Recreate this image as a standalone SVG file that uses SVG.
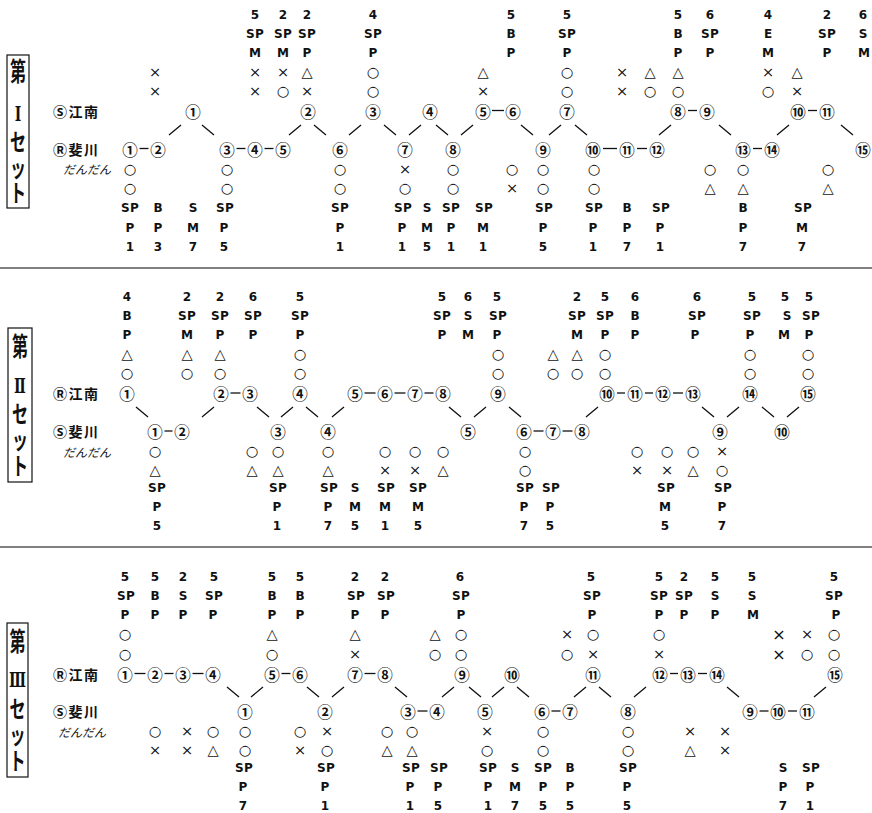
<svg xmlns="http://www.w3.org/2000/svg" width="872" height="813" viewBox="0 0 872 813">
<style>
.a{font-family:"DejaVu Sans","Liberation Sans",sans-serif;font-weight:bold;font-size:12px;text-anchor:middle;dominant-baseline:central;fill:#111}
.sp{letter-spacing:0.3px}
.s{font-family:"DejaVu Sans",sans-serif;font-weight:normal;font-size:14.5px}
.X{font-family:"DejaVu Sans",sans-serif;font-weight:normal;font-size:16px}
.c{font-family:"Noto Sans CJK JP",sans-serif;font-size:15.5px;font-weight:bold;text-anchor:middle;dominant-baseline:central;fill:#111}
.lab{font-family:"Noto Sans CJK JP",sans-serif;font-size:14px;font-weight:bold;letter-spacing:1.5px;dominant-baseline:central;fill:#111}
.dd{font-family:"Noto Sans CJK JP",sans-serif;font-size:12px;font-style:italic;dominant-baseline:central;fill:#111}
.v{font-family:"Noto Sans CJK JP",sans-serif;font-size:16px;font-weight:bold;text-anchor:middle;dominant-baseline:central;fill:#111}
.r{font-family:"DejaVu Serif","Liberation Serif",serif;font-size:14px}
.vt{font-family:"Noto Sans CJK JP",sans-serif;font-size:16px;font-weight:bold;writing-mode:vertical-rl;text-anchor:middle;fill:#111;font-feature-settings:"vert" 0,"vrt2" 0}
.box{fill:none;stroke:#111;stroke-width:1.2}
.ln{stroke:#111;stroke-width:1.3;fill:none}
.sep{stroke:#808080;stroke-width:2}
</style>
<rect width="872" height="813" fill="#fff"/>
<g id="separators">
<line class="sep" x1="0" y1="268" x2="872" y2="268"/>
<line class="sep" x1="0" y1="547" x2="872" y2="547"/>
</g>
<!-- ================= SET I ================= -->
<g id="set1-title">
<rect class="box" x="7" y="55" width="22" height="153"/>
<text class="v" transform="translate(18,70) scale(1,1.6)">第</text>
<text class="v r" transform="translate(18,113) scale(1,1.5)">Ⅰ</text>
<text class="vt" letter-spacing="1" transform="translate(18,168.5) scale(1,1.5)">セット</text>
</g>
<g id="set1-labels">
<text class="lab" x="53" y="110.5">Ⓢ江南</text>
<text class="lab" x="53" y="148.5">Ⓡ斐川</text>
<text class="dd" x="63" y="168.5">だんだん</text>
</g>
<g id="set1-top">
<g id="s1t-155"><text class="a"><tspan class="s" x="155" y="72">×</tspan><tspan class="s" x="155" y="90.5">×</tspan></text></g>
<g id="s1t-255"><text class="a"><tspan x="255" y="15">5</tspan><tspan class="sp" x="255" y="34">SP</tspan><tspan x="255" y="53">M</tspan><tspan class="s" x="255" y="72">×</tspan><tspan class="s" x="255" y="90.5">×</tspan></text></g>
<g id="s1t-283"><text class="a"><tspan x="283" y="15">2</tspan><tspan class="sp" x="283" y="34">SP</tspan><tspan x="283" y="53">M</tspan><tspan class="s" x="283" y="72">×</tspan><tspan class="s" x="283" y="90.5">○</tspan></text></g>
<g id="s1t-307"><text class="a"><tspan x="307" y="15">2</tspan><tspan class="sp" x="307" y="34">SP</tspan><tspan x="307" y="53">P</tspan><tspan class="s" x="307" y="72">△</tspan><tspan class="s" x="307" y="90.5">×</tspan></text></g>
<g id="s1t-373"><text class="a"><tspan x="373" y="15">4</tspan><tspan class="sp" x="373" y="34">SP</tspan><tspan x="373" y="53">P</tspan><tspan class="s" x="373" y="72">○</tspan><tspan class="s" x="373" y="90.5">○</tspan></text></g>
<g id="s1t-483"><text class="a"><tspan class="s" x="483" y="72">△</tspan><tspan class="s" x="483" y="90.5">×</tspan></text></g>
<g id="s1t-511"><text class="a"><tspan x="511" y="15">5</tspan><tspan x="511" y="34">B</tspan><tspan x="511" y="53">P</tspan></text></g>
<g id="s1t-567"><text class="a"><tspan x="567" y="15">5</tspan><tspan class="sp" x="567" y="34">SP</tspan><tspan x="567" y="53">P</tspan><tspan class="s" x="567" y="72">○</tspan><tspan class="s" x="567" y="90.5">○</tspan></text></g>
<g id="s1t-622"><text class="a"><tspan class="s" x="622" y="72">×</tspan><tspan class="s" x="622" y="90.5">×</tspan></text></g>
<g id="s1t-650"><text class="a"><tspan class="s" x="650" y="72">△</tspan><tspan class="s" x="650" y="90.5">○</tspan></text></g>
<g id="s1t-678"><text class="a"><tspan x="678" y="15">5</tspan><tspan x="678" y="34">B</tspan><tspan x="678" y="53">P</tspan><tspan class="s" x="678" y="72">△</tspan><tspan class="s" x="678" y="90.5">○</tspan></text></g>
<g id="s1t-710"><text class="a"><tspan x="710" y="15">6</tspan><tspan class="sp" x="710" y="34">SP</tspan><tspan x="710" y="53">P</tspan></text></g>
<g id="s1t-768"><text class="a"><tspan x="768" y="15">4</tspan><tspan x="768" y="34">E</tspan><tspan x="768" y="53">M</tspan><tspan class="s" x="768" y="72">×</tspan><tspan class="s" x="768" y="90.5">○</tspan></text></g>
<g id="s1t-797"><text class="a"><tspan class="s" x="797" y="72">△</tspan><tspan class="s" x="797" y="90.5">×</tspan></text></g>
<g id="s1t-827"><text class="a"><tspan x="827" y="15">2</tspan><tspan class="sp" x="827" y="34">SP</tspan><tspan x="827" y="53">P</tspan></text></g>
<g id="s1t-863"><text class="a"><tspan x="863" y="15">6</tspan><tspan x="863" y="34">S</tspan><tspan x="864" y="53">M</tspan></text></g>
</g>
<g id="set1-nodes-top">
<g id="s1a-1"><text class="c" x="193" y="110.5">①</text></g>
<g id="s1a-2"><text class="c" x="308" y="110.5">②</text></g>
<g id="s1a-3"><text class="c" x="373" y="110.5">③</text></g>
<g id="s1a-4"><text class="c" x="430" y="110.5">④</text></g>
<g id="s1a-5"><text class="c" x="483" y="110.5">⑤</text></g>
<g id="s1a-6"><text class="c" x="513" y="110.5">⑥</text></g>
<g id="s1a-7"><text class="c" x="567" y="110.5">⑦</text></g>
<g id="s1a-8"><text class="c" x="678" y="110.5">⑧</text></g>
<g id="s1a-9"><text class="c" x="707" y="110.5">⑨</text></g>
<g id="s1a-10"><text class="c" x="798" y="110.5">⑩</text></g>
<g id="s1a-11"><text class="c" x="827" y="110.5">⑪</text></g>
</g>
<g id="set1-nodes-bottom">
<g id="s1b-1"><text class="c" x="130" y="148.5">①</text></g>
<g id="s1b-2"><text class="c" x="158" y="148.5">②</text></g>
<g id="s1b-3"><text class="c" x="227" y="148.5">③</text></g>
<g id="s1b-4"><text class="c" x="255" y="148.5">④</text></g>
<g id="s1b-5"><text class="c" x="283" y="148.5">⑤</text></g>
<g id="s1b-6"><text class="c" x="340" y="148.5">⑥</text></g>
<g id="s1b-7"><text class="c" x="405" y="148.5">⑦</text></g>
<g id="s1b-8"><text class="c" x="453" y="148.5">⑧</text></g>
<g id="s1b-9"><text class="c" x="543" y="148.5">⑨</text></g>
<g id="s1b-10"><text class="c" x="593" y="148.5">⑩</text></g>
<g id="s1b-11"><text class="c" x="627" y="148.5">⑪</text></g>
<g id="s1b-12"><text class="c" x="657" y="148.5">⑫</text></g>
<g id="s1b-13"><text class="c" x="743" y="148.5">⑬</text></g>
<g id="s1b-14"><text class="c" x="772" y="148.5">⑭</text></g>
<g id="s1b-15"><text class="c" x="863" y="148.5">⑮</text></g>
</g>
<g id="set1-bottom">
<g id="s1d-130"><text class="a"><tspan class="s" x="130" y="168.5">○</tspan><tspan class="s" x="130" y="188">○</tspan><tspan class="sp" x="130" y="208">SP</tspan><tspan x="130" y="227.5">P</tspan><tspan x="130" y="247">1</tspan></text></g>
<g id="s1d-158"><text class="a"><tspan x="158" y="208">B</tspan><tspan x="158" y="227.5">P</tspan><tspan x="158" y="247">3</tspan></text></g>
<g id="s1d-193"><text class="a"><tspan x="193" y="208">S</tspan><tspan x="193" y="227.5">M</tspan><tspan x="193" y="247">7</tspan></text></g>
<g id="s1d-226"><text class="a"><tspan class="s" x="227" y="168.5">○</tspan><tspan class="s" x="227" y="188">○</tspan><tspan class="sp" x="225" y="208">SP</tspan><tspan x="224" y="227.5">P</tspan><tspan x="224" y="247">5</tspan></text></g>
<g id="s1d-340"><text class="a"><tspan class="s" x="340" y="168.5">○</tspan><tspan class="s" x="340" y="188">○</tspan><tspan class="sp" x="340" y="208">SP</tspan><tspan x="340" y="227.5">P</tspan><tspan x="340" y="247">1</tspan></text></g>
<g id="s1d-404"><text class="a"><tspan class="s" x="405" y="168.5">×</tspan><tspan class="s" x="405" y="188">○</tspan><tspan class="sp" x="403" y="208">SP</tspan><tspan x="402" y="227.5">P</tspan><tspan x="402" y="247">1</tspan></text></g>
<g id="s1d-427"><text class="a"><tspan x="427" y="208">S</tspan><tspan x="427" y="227.5">M</tspan><tspan x="427" y="247">5</tspan></text></g>
<g id="s1d-452"><text class="a"><tspan class="s" x="453" y="168.5">○</tspan><tspan class="s" x="453" y="188">○</tspan><tspan class="sp" x="451" y="208">SP</tspan><tspan x="451" y="227.5">P</tspan><tspan x="451" y="247">1</tspan></text></g>
<g id="s1d-483"><text class="a"><tspan class="sp" x="484" y="208">SP</tspan><tspan x="483" y="227.5">M</tspan><tspan x="483" y="247">1</tspan></text></g>
<g id="s1d-512"><text class="a"><tspan class="s" x="512" y="168.5">○</tspan><tspan class="s" x="512" y="188">×</tspan></text></g>
<g id="s1d-543"><text class="a"><tspan class="s" x="543" y="168.5">○</tspan><tspan class="s" x="543" y="188">○</tspan><tspan class="sp" x="544" y="208">SP</tspan><tspan x="543" y="227.5">P</tspan><tspan x="543" y="247">5</tspan></text></g>
<g id="s1d-594"><text class="a"><tspan class="s" x="594" y="168.5">○</tspan><tspan class="s" x="594" y="188">○</tspan><tspan class="sp" x="594" y="208">SP</tspan><tspan x="593" y="227.5">P</tspan><tspan x="593" y="247">1</tspan></text></g>
<g id="s1d-627"><text class="a"><tspan x="627" y="208">B</tspan><tspan x="627" y="227.5">P</tspan><tspan x="627" y="247">7</tspan></text></g>
<g id="s1d-660"><text class="a"><tspan class="sp" x="661" y="208">SP</tspan><tspan x="660" y="227.5">P</tspan><tspan x="660" y="247">1</tspan></text></g>
<g id="s1d-710"><text class="a"><tspan class="s" x="710" y="168.5">○</tspan><tspan class="s" x="710" y="188">△</tspan></text></g>
<g id="s1d-743"><text class="a"><tspan class="s" x="743" y="168.5">○</tspan><tspan class="s" x="743" y="188">△</tspan><tspan x="743" y="208">B</tspan><tspan x="743" y="227.5">P</tspan><tspan x="743" y="247">7</tspan></text></g>
<g id="s1d-802"><text class="a"><tspan class="sp" x="803" y="208">SP</tspan><tspan x="802" y="227.5">M</tspan><tspan x="802" y="247">7</tspan></text></g>
<g id="s1d-828"><text class="a"><tspan class="s" x="828" y="168.5">○</tspan><tspan class="s" x="828" y="188">△</tspan></text></g>
</g>
<!-- ================= SET II ================= -->
<g id="set2-title">
<rect class="box" x="8" y="328" width="24" height="154"/>
<text class="v" transform="translate(20,345) scale(1,1.6)">第</text>
<text class="v r" transform="translate(20,385) scale(1,1.5)">Ⅱ</text>
<text class="vt" letter-spacing="1.33" transform="translate(20,441) scale(1,1.5)">セット</text>
</g>
<g id="set2-labels">
<text class="lab" x="53" y="393">Ⓡ江南</text>
<text class="lab" x="53" y="431">Ⓢ斐川</text>
<text class="dd" x="63" y="451">だんだん</text>
</g>
<g id="set2-top">
<g id="s2t-127"><text class="a"><tspan x="127" y="297">4</tspan><tspan x="127" y="316">B</tspan><tspan x="127" y="335">P</tspan><tspan class="s" x="127" y="354">△</tspan><tspan class="s" x="127" y="373">○</tspan></text></g>
<g id="s2t-187"><text class="a"><tspan x="187" y="297">2</tspan><tspan class="sp" x="187" y="316">SP</tspan><tspan x="187" y="335">M</tspan><tspan class="s" x="187" y="354">△</tspan><tspan class="s" x="187" y="373">○</tspan></text></g>
<g id="s2t-220"><text class="a"><tspan x="220" y="297">2</tspan><tspan class="sp" x="220" y="316">SP</tspan><tspan x="220" y="335">P</tspan><tspan class="s" x="220" y="354">△</tspan><tspan class="s" x="220" y="373">○</tspan></text></g>
<g id="s2t-253"><text class="a"><tspan x="253" y="297">6</tspan><tspan class="sp" x="253" y="316">SP</tspan><tspan x="253" y="335">P</tspan></text></g>
<g id="s2t-300"><text class="a"><tspan x="300" y="297">5</tspan><tspan class="sp" x="300" y="316">SP</tspan><tspan x="300" y="335">P</tspan><tspan class="s" x="300" y="354">○</tspan><tspan class="s" x="300" y="373">○</tspan></text></g>
<g id="s2t-442"><text class="a"><tspan x="442" y="297">5</tspan><tspan class="sp" x="442" y="316">SP</tspan><tspan x="442" y="335">P</tspan></text></g>
<g id="s2t-468"><text class="a"><tspan x="468" y="297">6</tspan><tspan x="468" y="316">S</tspan><tspan x="468" y="335">M</tspan></text></g>
<g id="s2t-497"><text class="a"><tspan x="497" y="297">5</tspan><tspan class="sp" x="498" y="316">SP</tspan><tspan x="497" y="335">P</tspan><tspan class="s" x="498" y="354">○</tspan><tspan class="s" x="498" y="373">○</tspan></text></g>
<g id="s2t-553"><text class="a"><tspan class="s" x="553" y="354">△</tspan><tspan class="s" x="553" y="373">○</tspan></text></g>
<g id="s2t-577"><text class="a"><tspan x="577" y="297">2</tspan><tspan class="sp" x="577" y="316">SP</tspan><tspan x="577" y="335">M</tspan><tspan class="s" x="577" y="354">△</tspan><tspan class="s" x="577" y="373">○</tspan></text></g>
<g id="s2t-605"><text class="a"><tspan x="605" y="297">5</tspan><tspan class="sp" x="605" y="316">SP</tspan><tspan x="605" y="335">P</tspan><tspan class="s" x="605" y="354">○</tspan><tspan class="s" x="605" y="373">○</tspan></text></g>
<g id="s2t-635"><text class="a"><tspan x="635" y="297">6</tspan><tspan x="635" y="316">B</tspan><tspan x="635" y="335">P</tspan></text></g>
<g id="s2t-697"><text class="a"><tspan x="697" y="297">6</tspan><tspan class="sp" x="697" y="316">SP</tspan><tspan x="695" y="335">P</tspan></text></g>
<g id="s2t-751"><text class="a"><tspan x="752" y="297">5</tspan><tspan class="sp" x="752" y="316">SP</tspan><tspan x="750" y="335">P</tspan><tspan class="s" x="750" y="354">○</tspan><tspan class="s" x="750" y="373">○</tspan></text></g>
<g id="s2t-785"><text class="a"><tspan x="785" y="297">5</tspan><tspan x="787" y="316">S</tspan><tspan x="784" y="335">M</tspan></text></g>
<g id="s2t-809"><text class="a"><tspan x="809" y="297">5</tspan><tspan class="sp" x="811" y="316">SP</tspan><tspan x="809" y="335">P</tspan><tspan class="s" x="808" y="354">○</tspan><tspan class="s" x="808" y="373">○</tspan></text></g>
</g>
<g id="set2-nodes-top">
<g id="s2a-1"><text class="c" x="127" y="393">①</text></g>
<g id="s2a-2"><text class="c" x="221" y="393">②</text></g>
<g id="s2a-3"><text class="c" x="250" y="393">③</text></g>
<g id="s2a-4"><text class="c" x="300" y="393">④</text></g>
<g id="s2a-5"><text class="c" x="355" y="393">⑤</text></g>
<g id="s2a-6"><text class="c" x="385" y="393">⑥</text></g>
<g id="s2a-7"><text class="c" x="415" y="393">⑦</text></g>
<g id="s2a-8"><text class="c" x="443" y="393">⑧</text></g>
<g id="s2a-9"><text class="c" x="498" y="393">⑨</text></g>
<g id="s2a-10"><text class="c" x="607" y="393">⑩</text></g>
<g id="s2a-11"><text class="c" x="635" y="393">⑪</text></g>
<g id="s2a-12"><text class="c" x="663" y="393">⑫</text></g>
<g id="s2a-13"><text class="c" x="693" y="393">⑬</text></g>
<g id="s2a-14"><text class="c" x="750" y="393">⑭</text></g>
<g id="s2a-15"><text class="c" x="808" y="393">⑮</text></g>
</g>
<g id="set2-nodes-bottom">
<g id="s2b-1"><text class="c" x="155" y="431">①</text></g>
<g id="s2b-2"><text class="c" x="182" y="431">②</text></g>
<g id="s2b-3"><text class="c" x="278" y="431">③</text></g>
<g id="s2b-4"><text class="c" x="328" y="431">④</text></g>
<g id="s2b-5"><text class="c" x="468" y="431">⑤</text></g>
<g id="s2b-6"><text class="c" x="524" y="431">⑥</text></g>
<g id="s2b-7"><text class="c" x="553" y="431">⑦</text></g>
<g id="s2b-8"><text class="c" x="582" y="431">⑧</text></g>
<g id="s2b-9"><text class="c" x="720" y="431">⑨</text></g>
<g id="s2b-10"><text class="c" x="782" y="431">⑩</text></g>
</g>
<g id="set2-bottom">
<g id="s2d-155"><text class="a"><tspan class="s" x="155" y="451">○</tspan><tspan class="s" x="155" y="469.5">△</tspan><tspan class="sp" x="157" y="488">SP</tspan><tspan x="157" y="507">P</tspan><tspan x="157" y="526">5</tspan></text></g>
<g id="s2d-252"><text class="a"><tspan class="s" x="252" y="451">○</tspan><tspan class="s" x="252" y="469.5">△</tspan></text></g>
<g id="s2d-278"><text class="a"><tspan class="s" x="278" y="451">○</tspan><tspan class="s" x="278" y="469.5">△</tspan><tspan class="sp" x="278" y="488">SP</tspan><tspan x="277" y="507">P</tspan><tspan x="277" y="526">1</tspan></text></g>
<g id="s2d-328"><text class="a"><tspan class="s" x="328" y="451">○</tspan><tspan class="s" x="328" y="469.5">△</tspan><tspan class="sp" x="329" y="488">SP</tspan><tspan x="328" y="507">P</tspan><tspan x="328" y="526">7</tspan></text></g>
<g id="s2d-355"><text class="a"><tspan x="355" y="488">S</tspan><tspan x="355" y="507">M</tspan><tspan x="355" y="526">5</tspan></text></g>
<g id="s2d-385"><text class="a"><tspan class="s" x="385" y="451">○</tspan><tspan class="s" x="385" y="469.5">×</tspan><tspan class="sp" x="386" y="488">SP</tspan><tspan x="385" y="507">M</tspan><tspan x="385" y="526">1</tspan></text></g>
<g id="s2d-416"><text class="a"><tspan class="s" x="415" y="451">○</tspan><tspan class="s" x="415" y="469.5">×</tspan><tspan class="sp" x="418" y="488">SP</tspan><tspan x="418" y="507">M</tspan><tspan x="418" y="526">5</tspan></text></g>
<g id="s2d-443"><text class="a"><tspan class="s" x="443" y="451">○</tspan><tspan class="s" x="443" y="469.5">△</tspan></text></g>
<g id="s2d-524"><text class="a"><tspan class="s" x="525" y="451">○</tspan><tspan class="s" x="525" y="469.5">○</tspan><tspan class="sp" x="525" y="488">SP</tspan><tspan x="524" y="507">P</tspan><tspan x="524" y="526">7</tspan></text></g>
<g id="s2d-550"><text class="a"><tspan class="sp" x="551" y="488">SP</tspan><tspan x="550" y="507">P</tspan><tspan x="550" y="526">5</tspan></text></g>
<g id="s2d-637"><text class="a"><tspan class="s" x="637" y="451">○</tspan><tspan class="s" x="637" y="469.5">×</tspan></text></g>
<g id="s2d-666"><text class="a"><tspan class="s" x="667" y="451">○</tspan><tspan class="s" x="667" y="469.5">×</tspan><tspan class="sp" x="666" y="488">SP</tspan><tspan x="665" y="507">M</tspan><tspan x="665" y="526">5</tspan></text></g>
<g id="s2d-693"><text class="a"><tspan class="s" x="693" y="451">○</tspan><tspan class="s" x="693" y="469.5">△</tspan></text></g>
<g id="s2d-722"><text class="a"><tspan class="s" x="722" y="451">×</tspan><tspan class="s" x="722" y="469.5">○</tspan><tspan class="sp" x="723" y="488">SP</tspan><tspan x="722" y="507">P</tspan><tspan x="722" y="526">7</tspan></text></g>
</g>
<!-- ================= SET III ================= -->
<g id="set3-title">
<rect class="box" x="7" y="623" width="21" height="154"/>
<text class="v" transform="translate(17.5,640) scale(1,1.6)">第</text>
<text class="v r" transform="translate(17.5,679) scale(1,1.5)">Ⅲ</text>
<text class="vt" letter-spacing="1.33" transform="translate(17.5,736) scale(1,1.5)">セット</text>
</g>
<g id="set3-labels">
<text class="lab" x="53" y="673.5">Ⓡ江南</text>
<text class="lab" x="53" y="711">Ⓢ斐川</text>
<text class="dd" x="58" y="731">だんだん</text>
</g>
<g id="set3-top">
<g id="s3t-125"><text class="a"><tspan x="125" y="577">5</tspan><tspan class="sp" x="126" y="596">SP</tspan><tspan x="125" y="615">P</tspan><tspan class="s" x="125" y="634">○</tspan><tspan class="s" x="125" y="653.5">○</tspan></text></g>
<g id="s3t-155"><text class="a"><tspan x="155" y="577">5</tspan><tspan x="155" y="596">B</tspan><tspan x="155" y="615">P</tspan></text></g>
<g id="s3t-183"><text class="a"><tspan x="183" y="577">2</tspan><tspan x="183" y="596">S</tspan><tspan x="183" y="615">P</tspan></text></g>
<g id="s3t-213"><text class="a"><tspan x="214" y="577">5</tspan><tspan class="sp" x="214" y="596">SP</tspan><tspan x="213" y="615">P</tspan></text></g>
<g id="s3t-272"><text class="a"><tspan x="272" y="577">5</tspan><tspan x="272" y="596">B</tspan><tspan x="272" y="615">P</tspan><tspan class="s" x="272" y="634">△</tspan><tspan class="s" x="272" y="653.5">○</tspan></text></g>
<g id="s3t-300"><text class="a"><tspan x="300" y="577">5</tspan><tspan x="300" y="596">B</tspan><tspan x="300" y="615">P</tspan></text></g>
<g id="s3t-355"><text class="a"><tspan x="355" y="577">2</tspan><tspan class="sp" x="356" y="596">SP</tspan><tspan x="355" y="615">P</tspan><tspan class="s" x="355" y="634">△</tspan><tspan class="s" x="355" y="653.5">×</tspan></text></g>
<g id="s3t-385"><text class="a"><tspan x="385" y="577">2</tspan><tspan class="sp" x="386" y="596">SP</tspan><tspan x="385" y="615">P</tspan></text></g>
<g id="s3t-435"><text class="a"><tspan class="s" x="435" y="634">△</tspan><tspan class="s" x="435" y="653.5">○</tspan></text></g>
<g id="s3t-461"><text class="a"><tspan x="460" y="577">6</tspan><tspan class="sp" x="461" y="596">SP</tspan><tspan x="461" y="615">P</tspan><tspan class="s" x="461" y="634">○</tspan><tspan class="s" x="461" y="653.5">○</tspan></text></g>
<g id="s3t-567"><text class="a"><tspan class="s" x="567" y="634">×</tspan><tspan class="s" x="567" y="653.5">○</tspan></text></g>
<g id="s3t-592"><text class="a"><tspan x="591" y="577">5</tspan><tspan class="sp" x="592" y="596">SP</tspan><tspan x="592" y="615">P</tspan><tspan class="s" x="593" y="634">○</tspan><tspan class="s" x="593" y="653.5">×</tspan></text></g>
<g id="s3t-659"><text class="a"><tspan x="659" y="577">5</tspan><tspan class="sp" x="659" y="596">SP</tspan><tspan x="659" y="615">P</tspan><tspan class="s" x="659" y="634">○</tspan><tspan class="s" x="659" y="653.5">×</tspan></text></g>
<g id="s3t-684"><text class="a"><tspan x="684" y="577">2</tspan><tspan class="sp" x="684" y="596">SP</tspan><tspan x="684" y="615">P</tspan></text></g>
<g id="s3t-715"><text class="a"><tspan x="715" y="577">5</tspan><tspan x="715" y="596">S</tspan><tspan x="715" y="615">P</tspan></text></g>
<g id="s3t-752"><text class="a"><tspan x="752" y="577">5</tspan><tspan x="752" y="596">S</tspan><tspan x="753" y="615">M</tspan></text></g>
<g id="s3t-779"><text class="a"><tspan class="X" x="779" y="634">×</tspan><tspan class="X" x="779" y="653.5">×</tspan></text></g>
<g id="s3t-807"><text class="a"><tspan class="s" x="807" y="634">×</tspan><tspan class="s" x="807" y="653.5">○</tspan></text></g>
<g id="s3t-834"><text class="a"><tspan x="834" y="577">5</tspan><tspan class="sp" x="834" y="596">SP</tspan><tspan x="836" y="615">P</tspan><tspan class="s" x="834" y="634">○</tspan><tspan class="s" x="834" y="653.5">○</tspan></text></g>
</g>
<g id="set3-nodes-top">
<g id="s3a-1"><text class="c" x="125" y="673.5">①</text></g>
<g id="s3a-2"><text class="c" x="155" y="673.5">②</text></g>
<g id="s3a-3"><text class="c" x="183" y="673.5">③</text></g>
<g id="s3a-4"><text class="c" x="213" y="673.5">④</text></g>
<g id="s3a-5"><text class="c" x="272" y="673.5">⑤</text></g>
<g id="s3a-6"><text class="c" x="300" y="673.5">⑥</text></g>
<g id="s3a-7"><text class="c" x="355" y="673.5">⑦</text></g>
<g id="s3a-8"><text class="c" x="385" y="673.5">⑧</text></g>
<g id="s3a-9"><text class="c" x="462" y="673.5">⑨</text></g>
<g id="s3a-10"><text class="c" x="512" y="673.5">⑩</text></g>
<g id="s3a-11"><text class="c" x="593" y="673.5">⑪</text></g>
<g id="s3a-12"><text class="c" x="660" y="673.5">⑫</text></g>
<g id="s3a-13"><text class="c" x="688" y="673.5">⑬</text></g>
<g id="s3a-14"><text class="c" x="717" y="673.5">⑭</text></g>
<g id="s3a-15"><text class="c" x="835" y="673.5">⑮</text></g>
</g>
<g id="set3-nodes-bottom">
<g id="s3b-1"><text class="c" x="245" y="711">①</text></g>
<g id="s3b-2"><text class="c" x="325" y="711">②</text></g>
<g id="s3b-3"><text class="c" x="408" y="711">③</text></g>
<g id="s3b-4"><text class="c" x="437" y="711">④</text></g>
<g id="s3b-5"><text class="c" x="485" y="711">⑤</text></g>
<g id="s3b-6"><text class="c" x="542" y="711">⑥</text></g>
<g id="s3b-7"><text class="c" x="570" y="711">⑦</text></g>
<g id="s3b-8"><text class="c" x="628" y="711">⑧</text></g>
<g id="s3b-9"><text class="c" x="750" y="711">⑨</text></g>
<g id="s3b-10"><text class="c" x="778" y="711">⑩</text></g>
<g id="s3b-11"><text class="c" x="807" y="711">⑪</text></g>
</g>
<g id="set3-bottom">
<g id="s3d-155"><text class="a"><tspan class="s" x="155" y="731">○</tspan><tspan class="s" x="155" y="749.5">×</tspan></text></g>
<g id="s3d-187"><text class="a"><tspan class="s" x="187" y="731">×</tspan><tspan class="s" x="187" y="749.5">×</tspan></text></g>
<g id="s3d-213"><text class="a"><tspan class="s" x="213" y="731">○</tspan><tspan class="s" x="213" y="749.5">△</tspan></text></g>
<g id="s3d-244"><text class="a"><tspan class="s" x="245" y="731">○</tspan><tspan class="s" x="245" y="749.5">○</tspan><tspan class="sp" x="244" y="768">SP</tspan><tspan x="243" y="787">P</tspan><tspan x="243" y="806">7</tspan></text></g>
<g id="s3d-300"><text class="a"><tspan class="s" x="300" y="731">○</tspan><tspan class="s" x="300" y="749.5">×</tspan></text></g>
<g id="s3d-326"><text class="a"><tspan class="s" x="327" y="731">×</tspan><tspan class="s" x="327" y="749.5">○</tspan><tspan class="sp" x="326" y="768">SP</tspan><tspan x="325" y="787">P</tspan><tspan x="325" y="806">1</tspan></text></g>
<g id="s3d-387"><text class="a"><tspan class="s" x="387" y="731">○</tspan><tspan class="s" x="387" y="749.5">△</tspan></text></g>
<g id="s3d-411"><text class="a"><tspan class="s" x="412" y="731">○</tspan><tspan class="s" x="412" y="749.5">△</tspan><tspan class="sp" x="411" y="768">SP</tspan><tspan x="410" y="787">P</tspan><tspan x="410" y="806">1</tspan></text></g>
<g id="s3d-438"><text class="a"><tspan class="sp" x="439" y="768">SP</tspan><tspan x="438" y="787">P</tspan><tspan x="438" y="806">5</tspan></text></g>
<g id="s3d-487"><text class="a"><tspan class="s" x="487" y="731">×</tspan><tspan class="s" x="487" y="749.5">○</tspan><tspan class="sp" x="488" y="768">SP</tspan><tspan x="488" y="787">P</tspan><tspan x="488" y="806">1</tspan></text></g>
<g id="s3d-515"><text class="a"><tspan x="515" y="768">S</tspan><tspan x="515" y="787">M</tspan><tspan x="515" y="806">7</tspan></text></g>
<g id="s3d-543"><text class="a"><tspan class="s" x="543" y="731">○</tspan><tspan class="s" x="543" y="749.5">○</tspan><tspan class="sp" x="543" y="768">SP</tspan><tspan x="543" y="787">P</tspan><tspan x="543" y="806">5</tspan></text></g>
<g id="s3d-570"><text class="a"><tspan x="570" y="768">B</tspan><tspan x="570" y="787">P</tspan><tspan x="570" y="806">5</tspan></text></g>
<g id="s3d-628"><text class="a"><tspan class="s" x="628" y="731">○</tspan><tspan class="s" x="628" y="749.5">○</tspan><tspan class="sp" x="628" y="768">SP</tspan><tspan x="627" y="787">P</tspan><tspan x="627" y="806">5</tspan></text></g>
<g id="s3d-690"><text class="a"><tspan class="s" x="690" y="731">×</tspan><tspan class="s" x="690" y="749.5">△</tspan></text></g>
<g id="s3d-725"><text class="a"><tspan class="s" x="725" y="731">×</tspan><tspan class="s" x="725" y="749.5">×</tspan></text></g>
<g id="s3d-783"><text class="a"><tspan x="783" y="768">S</tspan><tspan x="783" y="787">P</tspan><tspan x="783" y="806">7</tspan></text></g>
<g id="s3d-810"><text class="a"><tspan class="sp" x="811" y="768">SP</tspan><tspan x="810" y="787">P</tspan><tspan x="810" y="806">1</tspan></text></g>
</g>
<!-- ================= CONNECTORS ================= -->
<g id="connectors" class="ln">
<line x1="492" y1="110.5" x2="504" y2="110.5"/>
<line x1="688" y1="110.5" x2="697" y2="110.5"/>
<line x1="808" y1="110.5" x2="817" y2="110.5"/>
<line x1="139.5" y1="148.5" x2="148.5" y2="148.5"/>
<line x1="236.5" y1="148.5" x2="245.5" y2="148.5"/>
<line x1="264.5" y1="148.5" x2="273.5" y2="148.5"/>
<line x1="603" y1="148.5" x2="617" y2="148.5"/>
<line x1="637" y1="148.5" x2="647" y2="148.5"/>
<line x1="753" y1="148.5" x2="762" y2="148.5"/>
<path d="M169 135L181 125M202 125L214 135M289 135L301 125M314 125L326 135M349 135L361 125M384 125L396 135M409 135L421 125M436 125L448 135M461 135L473 125M521 125L533 135M549 135L561 125M575 125L587 135M659 135L671 125M719 125L731 135M777 135L789 125M841 125L853 135"/>
<line x1="230.5" y1="393" x2="240.5" y2="393"/>
<line x1="364.5" y1="393" x2="375.5" y2="393"/>
<line x1="394.5" y1="393" x2="405.5" y2="393"/>
<line x1="424.5" y1="393" x2="433.5" y2="393"/>
<line x1="617" y1="393" x2="625" y2="393"/>
<line x1="645" y1="393" x2="653" y2="393"/>
<line x1="673" y1="393" x2="683" y2="393"/>
<line x1="164.5" y1="431" x2="172.5" y2="431"/>
<line x1="533.5" y1="431" x2="543.5" y2="431"/>
<line x1="562.5" y1="431" x2="572.5" y2="431"/>
<path d="M136 407L148 417M202 417L214 407M257 407L269 417M281 417L293 407M306 407L318 417M332 417L344 407M449 407L461 417M474 417L486 407M509 407L521 417M586 417L598 407M702 407L714 417M727 417L739 407M762 407L774 417M787 417L799 407"/>
<line x1="134.5" y1="673.5" x2="145.5" y2="673.5"/>
<line x1="164.5" y1="673.5" x2="173.5" y2="673.5"/>
<line x1="192.5" y1="673.5" x2="203.5" y2="673.5"/>
<line x1="281.5" y1="673.5" x2="290.5" y2="673.5"/>
<line x1="364.5" y1="673.5" x2="375.5" y2="673.5"/>
<line x1="670" y1="673.5" x2="678" y2="673.5"/>
<line x1="698" y1="673.5" x2="707" y2="673.5"/>
<line x1="417.5" y1="711" x2="427.5" y2="711"/>
<line x1="551.5" y1="711" x2="560.5" y2="711"/>
<line x1="759.5" y1="711" x2="768.5" y2="711"/>
<line x1="788" y1="711" x2="797" y2="711"/>
<path d="M227 687L239 697M251 697L263 687M307 687L319 697M332 697L344 687M395 687L407 697M442 697L454 687M469 687L481 697M492 697L504 687M517 687L529 697M574 697L586 687M599 687L611 697M634 697L646 687M727 687L739 697M814 697L826 687"/>
</g>
</svg>
